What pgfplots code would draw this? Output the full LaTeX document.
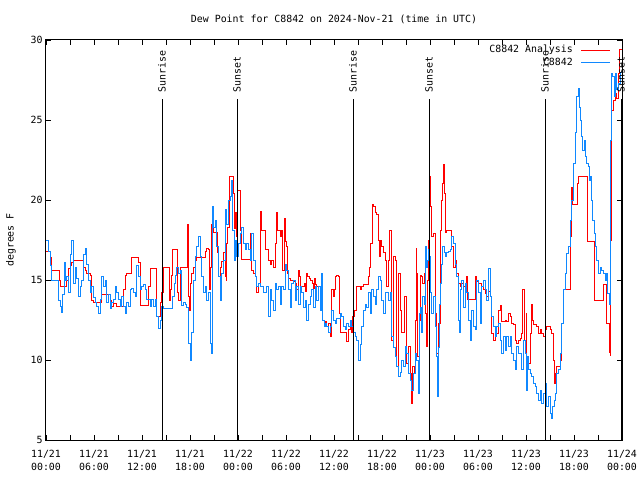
\documentclass[border=0pt]{standalone}
\usepackage{fontspec}
\setmainfont{DejaVu Sans Mono}
\usepackage{pgfplots}
\pgfplotsset{compat=1.18}
\definecolor{anared}{RGB}{255,0,0}
\definecolor{obsblue}{RGB}{16,136,255}
\newcommand{\chartfont}{\fontsize{9.9bp}{12bp}\selectfont}

\pgfplotstableread{
h v
0.0 16.8
0.5 16.4
0.71 15.6
1.67 15.0
1.83 14.6
2.5 15.0
2.79 15.7
3.0 15.9
3.21 16.1
3.42 16.2
4.67 15.8
4.88 15.6
5.08 15.4
5.5 15.3
5.71 13.7
5.92 13.6
6.96 14.1
8.0 13.7
8.21 13.35
8.42 13.55
8.83 13.35
9.67 14.4
9.88 15.3
10.08 15.4
10.71 16.4
11.54 16.1
11.75 13.4
12.79 14.6
13.0 15.7
13.83 12.7
14.25 13.6
14.46 14.2
14.67 15.8
15.42 13.75
15.58 14.4
15.71 15.3
15.83 16.9
16.42 14.2
16.54 13.75
16.75 15.8
17.67 18.5
17.79 14.0
17.92 13.1
18.0 14.8
18.21 15.4
18.42 15.8
18.63 16.25
18.83 16.4
19.88 16.8
20.08 17.0
20.29 16.9
20.42 14.4
20.58 15.8
20.71 18.5
20.92 18.0
21.42 16.7
21.54 15.2
21.75 15.8
21.96 16.15
22.17 16.7
22.38 15.2
22.5 15.0
22.58 17.3
22.71 18.3
22.88 21.5
23.42 20.4
23.54 18.2
23.67 19.2
23.83 17.7
23.96 20.6
24.25 18.1
24.46 16.3
25.58 17.9
25.71 15.6
25.92 15.4
26.13 15.2
26.33 14.2
26.54 14.8
26.75 19.3
26.88 18.1
27.38 16.9
27.79 16.25
28.0 16.0
28.21 16.25
28.42 15.8
28.63 17.3
28.75 19.2
28.92 18.1
29.25 17.7
29.38 18.1
29.58 15.6
29.75 18.85
29.88 17.4
30.0 17.1
30.17 15.4
30.29 15.1
30.5 15.0
30.92 14.9
31.13 14.8
31.33 14.4
31.54 15.6
31.67 15.2
31.83 14.6
32.25 14.8
32.38 14.3
32.5 15.4
32.67 15.2
32.92 15.1
33.08 15.0
33.29 14.8
33.42 14.5
33.54 15.1
33.71 14.7
33.83 14.6
34.46 14.5
34.58 12.5
34.75 12.1
34.96 12.4
35.08 12.1
35.29 12.3
35.5 11.5
35.63 13.75
35.71 14.4
35.92 14.0
36.04 14.4
36.21 15.2
36.33 15.3
36.54 15.2
36.67 12.9
36.83 11.7
37.58 11.15
37.79 11.9
38.0 12.1
38.21 11.7
38.33 12.7
38.5 13.1
38.75 14.6
39.25 14.4
39.46 14.6
39.67 14.7
40.29 15.2
40.42 15.8
40.58 17.3
40.75 19.7
40.92 19.6
41.13 19.2
41.33 19.1
41.54 17.5
41.63 16.5
41.75 17.5
41.96 17.1
42.17 16.7
42.38 16.25
42.58 14.6
42.79 16.25
42.92 18.1
43.21 11.25
43.42 16.5
43.63 16.25
43.83 9.6
44.04 15.4
44.25 13.1
44.46 11.7
44.75 14.0
45.0 13.5
45.08 9.8
45.29 10.85
45.5 9.17
45.71 7.3
45.83 9.6
46.0 9.17
46.13 12.5
46.25 17.0
46.33 15.4
46.46 10.2
46.63 12.5
46.75 15.3
46.96 15.2
47.08 14.8
47.25 15.4
47.38 12.9
47.5 10.85
47.67 15.0
47.79 17.5
47.92 21.46
48.0 19.6
48.21 17.7
48.42 17.9
48.63 12.9
48.83 10.4
49.04 12.3
49.25 18.1
49.46 20.0
49.58 21.04
49.67 22.2
49.79 20.4
49.96 18.0
50.08 18.1
50.71 17.1
50.92 15.8
51.13 16.25
51.33 15.4
51.54 14.8
51.75 14.6
51.96 14.8
52.17 14.6
52.58 15.2
52.71 13.8
53.63 15.2
53.83 14.9
54.04 14.8
54.46 14.6
54.67 14.4
54.88 14.17
55.08 13.96
55.29 14.3
55.5 13.96
55.71 11.67
55.92 11.25
56.13 11.77
56.33 11.67
56.54 13.1
56.75 13.4
56.96 12.4
57.38 12.5
57.58 12.4
57.79 12.9
58.0 12.7
58.21 12.3
58.42 12.2
58.63 11.25
58.83 11.04
59.04 11.25
59.25 11.35
59.46 11.67
59.58 14.4
59.75 11.25
60.0 12.9
60.08 9.8
60.5 11.67
60.71 13.5
60.83 12.5
60.92 12.2
61.33 12.1
61.54 11.67
61.75 11.9
61.96 11.67
62.17 11.46
62.38 11.9
62.58 12.1
63.0 11.9
63.21 11.67
63.42 10.0
63.54 8.54
63.71 9.17
63.83 9.6
64.25 10.0
64.46 12.3
64.67 14.4
65.5 17.7
65.71 20.8
65.83 19.7
66.46 21.04
66.54 21.5
67.67 17.4
68.54 13.75
69.67 14.7
70.08 12.3
70.42 10.5
70.5 10.3
70.58 17.5
70.71 25.6
70.92 26.25
71.13 26.67
71.33 26.35
71.54 27.9
71.67 29.4
72.0 29.4
}\analysis

\pgfplotstableread{
h v
0.0 17.5
0.29 16.8
0.5 15.9
0.71 15.0
1.54 13.7
1.75 13.35
1.96 13.0
2.08 14.1
2.25 16.1
2.42 15.0
2.58 15.2
2.79 14.2
3.0 16.6
3.21 17.5
3.42 14.8
3.63 15.8
3.83 15.1
4.04 14.0
4.25 14.6
4.46 15.0
4.67 16.6
4.88 17.0
5.08 16.0
5.29 15.0
5.5 14.2
5.71 14.6
5.92 13.9
6.13 13.6
6.33 13.35
6.54 12.9
6.75 13.8
6.96 15.2
7.17 14.6
7.38 15.0
7.58 13.6
7.79 14.1
8.0 13.2
8.21 13.6
8.42 13.8
8.63 14.6
8.83 14.2
9.04 13.8
9.25 13.35
9.46 14.0
9.67 13.35
9.88 12.9
10.08 13.6
10.29 13.35
10.5 14.4
10.71 14.5
10.92 14.2
11.13 14.0
11.33 15.9
11.54 15.2
11.75 14.4
11.96 14.6
12.17 14.7
12.38 14.4
12.58 13.8
12.79 13.8
13.0 13.35
13.21 13.8
13.42 13.35
13.63 13.8
13.83 12.7
14.04 12.0
14.25 12.5
14.46 13.35
14.67 13.2
14.88 13.2
15.83 14.0
16.0 14.8
16.13 15.3
16.33 15.8
16.54 15.4
16.75 15.6
16.96 13.4
17.17 13.6
17.38 13.5
17.58 13.3
17.79 11.05
18.0 10.0
18.21 11.7
18.42 15.0
18.63 16.5
18.83 17.1
19.04 17.7
19.25 16.5
19.46 15.2
19.67 14.2
19.88 14.6
20.08 13.75
20.29 14.2
20.5 11.05
20.63 10.4
20.75 19.6
20.92 18.3
21.13 18.75
21.33 17.1
21.54 15.2
21.75 13.75
21.96 15.4
22.17 16.25
22.38 19.4
22.58 18.5
22.79 20.0
23.0 20.2
23.21 21.25
23.33 18.1
23.5 16.25
23.67 17.5
23.83 16.5
24.04 17.3
24.25 17.9
24.46 18.3
24.67 17.3
24.88 16.9
25.08 17.3
25.29 16.9
25.5 16.25
25.71 17.9
25.92 16.25
26.13 15.2
26.33 14.6
26.54 14.8
26.75 14.6
27.17 14.2
27.58 14.6
27.79 12.7
28.0 14.4
28.21 13.75
28.42 13.1
28.63 14.8
28.83 14.4
29.04 14.6
29.25 13.5
29.46 14.6
29.67 14.4
29.88 16.0
30.08 15.6
30.29 14.4
30.5 13.3
30.71 14.8
30.92 15.0
31.13 13.75
31.33 14.6
31.54 13.5
31.75 14.6
31.96 14.2
32.17 13.3
32.38 13.75
32.58 12.5
32.79 13.5
33.0 14.0
33.21 14.4
33.42 13.3
33.63 14.6
33.83 13.75
34.04 14.6
34.25 13.1
34.46 15.4
34.58 12.5
34.75 12.1
34.88 12.3
35.08 12.1
35.29 11.7
35.5 12.1
35.71 13.1
35.92 12.5
36.13 12.3
36.33 12.6
36.75 12.9
36.96 12.7
37.17 12.1
37.38 11.9
37.58 12.3
37.79 12.1
38.0 12.5
38.21 12.1
38.42 11.7
38.63 11.5
38.83 11.25
39.04 10.0
39.25 11.0
39.46 12.1
39.67 13.1
39.88 13.5
40.08 13.3
40.29 14.2
40.5 12.9
40.71 14.4
40.92 14.0
41.13 13.5
41.33 14.4
41.54 15.2
41.75 15.0
41.96 13.75
42.17 12.9
42.38 14.2
42.79 13.75
43.0 14.2
43.21 11.5
43.42 10.8
43.63 10.2
43.83 9.6
44.04 9.0
44.25 9.2
44.46 10.0
44.67 9.6
44.88 10.85
45.08 10.4
45.29 9.17
45.5 8.75
45.71 8.1
45.92 9.17
46.13 10.4
46.33 10.0
46.54 7.9
46.67 12.9
46.83 13.3
46.96 11.7
47.08 14.0
47.25 13.5
47.38 17.1
47.5 15.8
47.67 16.25
47.79 16.9
47.92 16.5
48.08 14.2
48.21 12.9
48.42 14.0
48.63 12.1
48.75 10.2
48.92 7.7
49.04 10.8
49.17 13.5
49.33 14.8
49.46 16.0
49.58 17.1
49.75 16.7
49.88 16.5
50.08 16.7
50.29 16.8
50.5 16.9
50.71 17.7
50.92 17.3
51.13 16.0
51.33 15.2
51.54 12.5
51.67 11.7
51.83 14.4
51.96 15.0
52.17 13.3
52.38 14.8
52.58 14.2
52.79 12.5
53.0 11.25
53.21 13.1
53.42 12.1
53.63 11.9
53.83 15.0
54.04 14.2
54.25 12.3
54.46 14.6
54.67 15.0
54.88 14.4
55.08 13.75
55.29 15.7
55.5 14.0
55.71 12.7
55.92 12.1
56.13 11.5
56.33 12.1
56.54 12.3
56.75 11.25
56.96 10.4
57.17 11.5
57.38 10.6
57.58 11.5
57.79 10.85
58.0 11.5
58.21 10.4
58.42 10.0
58.63 9.4
58.83 10.85
59.04 10.4
59.25 10.4
59.46 9.4
59.67 11.25
59.88 10.4
60.0 8.1
60.17 10.2
60.29 9.4
60.5 9.17
60.71 8.96
60.92 8.54
61.13 8.33
61.33 7.9
61.54 7.5
61.75 8.1
61.96 7.3
62.17 7.9
62.38 8.54
62.58 7.1
62.79 7.7
63.0 6.67
63.21 6.35
63.33 7.1
63.5 7.5
63.63 7.9
63.83 9.17
64.04 9.4
64.25 10.4
64.38 11.67
64.46 12.3
64.67 14.4
64.88 15.4
65.08 16.67
65.29 17.1
65.5 18.75
65.71 20.0
65.92 22.3
66.13 24.2
66.33 26.46
66.54 26.98
66.67 25.8
66.83 25.0
66.96 23.96
67.08 23.1
67.25 23.75
67.38 22.7
67.58 22.3
67.79 22.1
67.92 21.25
68.08 21.46
68.21 20.0
68.33 18.75
68.5 17.9
68.63 17.1
68.83 16.25
69.04 15.4
69.25 15.8
69.46 15.6
69.67 15.4
69.88 15.0
70.08 15.4
70.21 14.17
70.38 13.5
70.5 19.6
70.58 23.75
70.71 27.9
70.83 27.7
71.0 26.46
71.17 27.9
71.33 26.9
71.54 27.3
71.75 28.0
72.0 28.0
}\observed

\begin{document}
\begin{tikzpicture}
\begin{axis}[
  scale only axis, width=576bp, height=400bp,
  xmin=0, xmax=72, ymin=5, ymax=30,
  clip=false,
  axis line style={line width=1bp},
  tick style={black, line width=0.8bp},
  tick align=inside,
  tick pos=both,
  major tick length=5bp, minor tick length=5bp,
  xtick={0,6,...,72},
  minor xtick={3,9,...,69},
  xticklabels={{11/21\\00:00},{11/21\\06:00},{11/21\\12:00},{11/21\\18:00},
               {11/22\\00:00},{11/22\\06:00},{11/22\\12:00},{11/22\\18:00},
               {11/23\\00:00},{11/23\\06:00},{11/23\\12:00},{11/23\\18:00},
               {11/24\\00:00}},
  xticklabel style={align=center, font=\fontsize{9.9bp}{12.5bp}\selectfont, yshift=-7bp},
  ytick={5,10,...,30},
  yticklabel style={font=\chartfont},
  /pgf/number format/assume math mode=true,
  title={Dew Point for C8842 on 2024-Nov-21 (time in UTC)},
  title style={font=\chartfont, at={(axis description cs:0.5,1)}, anchor=center, yshift=15bp},
  ylabel={degrees F},
  ylabel style={font=\chartfont, at={(axis description cs:-0.061,0.5)}, anchor=center},
]
\addplot[const plot, draw=anared, line width=0.9bp, forget plot] table[x=h, y=v] {\analysis};
\addplot[const plot, draw=obsblue, line width=0.9bp, forget plot] table[x=h, y=v] {\observed};

\addplot[black, line width=0.9bp, forget plot] coordinates {(14.5,5) (14.5,26.31)};
\addplot[black, line width=0.9bp, forget plot] coordinates {(23.875,5) (23.875,26.31)};
\addplot[black, line width=0.9bp, forget plot] coordinates {(38.375,5) (38.375,26.31)};
\addplot[black, line width=0.9bp, forget plot] coordinates {(47.875,5) (47.875,26.31)};
\addplot[black, line width=0.9bp, forget plot] coordinates {(62.375,5) (62.375,26.31)};
\addplot[black, line width=0.9bp, forget plot] coordinates {(71.875,5) (71.875,26.31)};

\node[rotate=90, anchor=west, inner sep=0pt, font=\chartfont] at (axis cs:14.5,26.7) {Sunrise};
\node[rotate=90, anchor=west, inner sep=0pt, font=\chartfont] at (axis cs:23.875,26.7) {Sunset};
\node[rotate=90, anchor=west, inner sep=0pt, font=\chartfont] at (axis cs:38.375,26.7) {Sunrise};
\node[rotate=90, anchor=west, inner sep=0pt, font=\chartfont] at (axis cs:47.875,26.7) {Sunset};
\node[rotate=90, anchor=west, inner sep=0pt, font=\chartfont] at (axis cs:62.375,26.7) {Sunrise};
\node[rotate=90, anchor=west, inner sep=0pt, font=\chartfont] at (axis cs:71.875,26.7) {Sunset};

% legend
\node[anchor=east, inner sep=0pt, font=\chartfont] at (axis description cs:0.915,0.975) {C8842 Analysis};
\draw[anared, line width=0.9bp] (axis description cs:0.929,0.975) -- (axis description cs:0.979,0.975);
\node[anchor=east, inner sep=0pt, font=\chartfont] at (axis description cs:0.915,0.945) {C8842};
\draw[obsblue, line width=0.9bp] (axis description cs:0.929,0.945) -- (axis description cs:0.979,0.945);

\coordinate (ll) at (rel axis cs:0,0);
\coordinate (ur) at (rel axis cs:1,1);
\end{axis}
\pgfresetboundingbox
\path[use as bounding box] ([xshift=-46bp,yshift=-40bp]ll) rectangle ([xshift=18bp,yshift=40bp]ur);
\end{tikzpicture}
\end{document}
